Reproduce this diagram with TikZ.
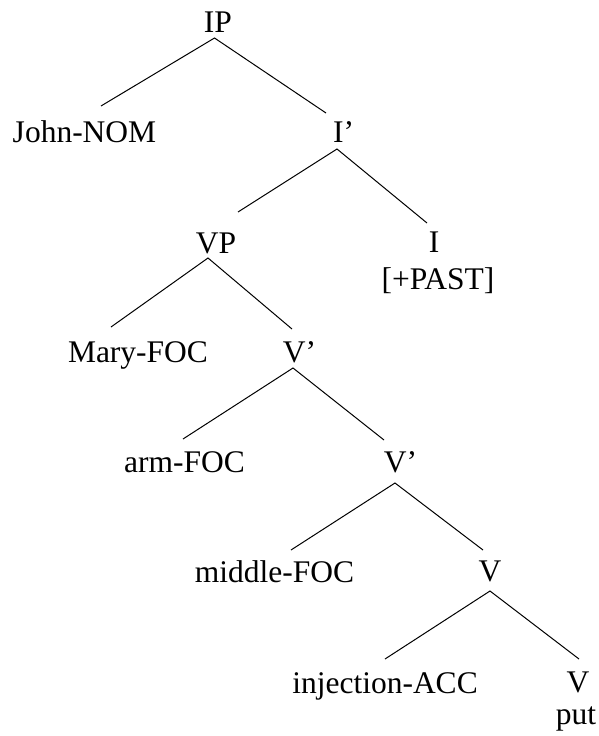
\documentclass[tikz,border=0pt]{standalone}
\usepackage{fontspec}
\setmainfont{Liberation Serif}
\begin{document}
\begin{tikzpicture}[x=1pt,y=-1pt,
  lbl/.style={anchor=base,inner sep=0pt,font=\fontsize{31.5}{36}\selectfont},
  branch/.style={draw=black,line width=1pt}]
\useasboundingbox (0,0) rectangle (599,736);
% labels
\node[lbl] (IP)   at (218,32)  {IP};
\node[lbl] (John) at (84.5,142) {John-NOM};
\node[lbl] (Ibar) at (343.5,142) {I’};
\node[lbl] (VP)   at (216,253) {VP};
\node[lbl] (I)    at (434,252) {I};
\node[lbl] (Past) at (438,289) {[+PAST]};
\node[lbl] (Mary) at (138,362) {Mary-FOC};
\node[lbl] (Vbar) at (299.6,362) {V’};
\node[lbl] (Arm)  at (184.5,472) {arm-FOC};
\node[lbl] (Vbb)  at (400.6,472) {V’};
\node[lbl] (Mid)  at (274.5,582) {middle-FOC};
\node[lbl] (V)    at (490,581) {V};
\node[lbl] (Inj)  at (385,693) {injection-ACC};
\node[lbl] (Vput) at (578,692) {V};
\node[lbl] (Put)  at (576,724) {put};
% branch points
\coordinate (IPa) at (214.5,38);  \coordinate (IPl) at (101,106); \coordinate (IPr) at (326,113);
\coordinate (Iba) at (337,149);   \coordinate (Ibl) at (238,212); \coordinate (Ibr) at (427,223);
\coordinate (VPa) at (208,258);   \coordinate (VPl) at (111,327); \coordinate (VPr) at (292,329);
\coordinate (Vba) at (293,368);   \coordinate (Vbl) at (183,439); \coordinate (Vbr) at (384,440);
\coordinate (Vca) at (395,483);   \coordinate (Vcl) at (291,550); \coordinate (Vcr) at (483,550);
\coordinate (Va)  at (490,591);   \coordinate (Vl)  at (385,659); \coordinate (Vr)  at (579,659);
% branches
\draw[branch] (IPl) -- (IPa) -- (IPr);
\draw[branch] (Ibl) -- (Iba) -- (Ibr);
\draw[branch] (VPl) -- (VPa) -- (VPr);
\draw[branch] (Vbl) -- (Vba) -- (Vbr);
\draw[branch] (Vcl) -- (Vca) -- (Vcr);
\draw[branch] (Vl) -- (Va) -- (Vr);
\end{tikzpicture}
\end{document}
